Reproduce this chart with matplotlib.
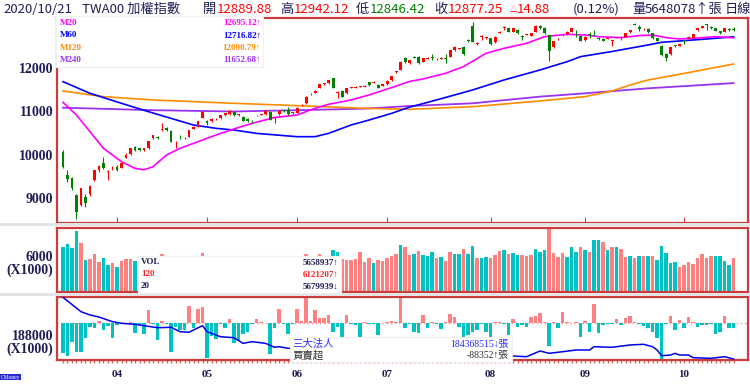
import numpy as np
import matplotlib
matplotlib.use("Agg")
import matplotlib.pyplot as plt
from matplotlib.patches import Rectangle

W, H = 750, 391

# daily candles, trading days 2020-03-16 .. 2020-10-21
opens = [
    10076, 9539, 9462, 9079, 8849, 9040, 9094, 9423, 9654, 9823,
    9620, 9690, 9731, 9708, 9939, 10015, 10184, 10153, 10110, 10153,
    10383, 10420, 10580, 10610, 10559, 10290, 10400, 10383, 10421, 10597,
    10651, 10858, 10781, 10781, 10820, 10842, 10919, 10942, 10981, 10920,
    10881, 10827, 10790, 10910, 10930, 10942, 10996, 10860, 10942, 11019,
    11035, 10960, 10973, 11140, 11188, 11395, 11434, 11549, 11635, 11648,
    11763, 11430, 11472, 11418, 11550, 11550, 11570, 11572, 11672, 11665,
    11620, 11595, 11633, 11720, 11901, 11954, 12222, 12107, 12245, 12261,
    12145, 12210, 12245, 12210, 12215, 12222, 12261, 12414, 12440, 12491,
    12644, 12966, 12560, 12715, 12690, 12682, 12590, 12815, 12930, 12912,
    12836, 12874, 12725, 12770, 12736, 12836, 12974, 12928, 12759, 12475,
    12660, 12750, 12774, 12836, 12800, 12744, 12644, 12765, 12800, 12700,
    12667, 12675, 12620, 12690, 12690, 12721, 12821, 13010, 12951, 12890,
    12897, 12797, 12682, 12514, 12322, 12314, 12510, 12506, 12625, 12667,
    12698, 12866, 12920, 12995, 12940, 12912, 12851, 12836, 12895, 12889.88,
]
highs = [
    10110, 9654, 9490, 9110, 9250, 9110, 9300, 9660, 9760, 9961,
    9660, 9750, 9760, 9830, 10050, 10160, 10200, 10170, 10170, 10330,
    10470, 10440, 10727, 10640, 10570, 10320, 10450, 10410, 10580, 10660,
    10790, 11000, 10800, 10840, 10850, 10930, 10970, 11030, 10995, 10950,
    10900, 10840, 10800, 10930, 10950, 11030, 11005, 10880, 11020, 11040,
    11112, 10990, 11100, 11170, 11350, 11420, 11490, 11630, 11660, 11730,
    11780, 11460, 11490, 11540, 11570, 11580, 11590, 11600, 11680, 11690,
    11640, 11640, 11715, 11820, 11940, 12150, 12261, 12190, 12270, 12280,
    12230, 12260, 12314, 12240, 12250, 12314, 12420, 12500, 12470, 12500,
    12660, 13051, 12606, 12759, 12720, 12700, 12730, 12840, 12974, 12930,
    12920, 12890, 12759, 12790, 12810, 12980, 12990, 12940, 12770, 12630,
    12680, 12770, 12840, 12930, 12874, 12760, 12730, 12836, 12874, 12720,
    12680, 12700, 12640, 12710, 12744, 12800, 12880, 13031, 12989, 12910,
    12910, 12810, 12700, 12530, 12350, 12480, 12540, 12550, 12644, 12730,
    12780, 12920, 12970, 13012, 12960, 12920, 12860, 12920, 12910, 12942.12,
]
lows = [
    9700, 9385, 9200, 8523, 8830, 8810, 9050, 9400, 9600, 9680,
    9423, 9650, 9630, 9690, 9930, 9990, 10100, 10100, 10100, 10140,
    10370, 10370, 10560, 10550, 10290, 10153, 10360, 10370, 10410, 10590,
    10640, 10850, 10700, 10760, 10800, 10830, 10900, 10930, 10900, 10900,
    10780, 10770, 10727, 10890, 10910, 10930, 10800, 10743, 10930, 10990,
    10930, 10940, 10960, 11120, 11180, 11380, 11420, 11540, 11620, 11640,
    11540, 11303, 11330, 11410, 11540, 11540, 11555, 11560, 11590, 11650,
    11530, 11580, 11620, 11710, 11890, 11950, 12120, 12100, 12220, 12100,
    12140, 12200, 12184, 12180, 12200, 12107, 12250, 12400, 12430, 12300,
    12600, 12590, 12529, 12644, 12670, 12530, 12580, 12800, 12874, 12820,
    12830, 12790, 12644, 12750, 12730, 12830, 12900, 12790, 12161, 12470,
    12640, 12740, 12760, 12830, 12721, 12610, 12630, 12698, 12744, 12650,
    12620, 12660, 12514, 12680, 12644, 12710, 12810, 12990, 12859, 12880,
    12810, 12670, 12620, 12280, 12169, 12300, 12480, 12500, 12544, 12660,
    12690, 12860, 12910, 12880, 12900, 12840, 12780, 12830, 12850, 12846.42,
]
closes = [
    9731, 9447, 9232, 8696, 9234, 8890, 9286, 9645, 9736, 9699,
    9629, 9708, 9664, 9819, 10000, 10153, 10115, 10110, 10153, 10321,
    10459, 10398, 10597, 10574, 10306, 10310, 10383, 10398, 10574, 10651,
    10781, 10992, 10727, 10827, 10830, 10919, 10957, 11018, 10919, 10934,
    10790, 10781, 10775, 10919, 10934, 11019, 10812, 10866, 11011, 11010,
    10942, 10973, 11089, 11150, 11342, 11403, 11480, 11625, 11641, 11724,
    11549, 11441, 11342, 11534, 11556, 11572, 11575, 11595, 11600, 11672,
    11549, 11633, 11710, 11816, 11931, 12145, 12140, 12184, 12238, 12107,
    12222, 12215, 12238, 12199, 12222, 12199, 12414, 12491, 12453, 12314,
    12621, 12606, 12567, 12721, 12698, 12544, 12721, 12821, 12935, 12836,
    12912, 12797, 12721, 12774, 12797, 12974, 12912, 12797, 12391, 12621,
    12667, 12759, 12836, 12928, 12797, 12621, 12721, 12759, 12797, 12667,
    12629, 12682, 12629, 12698, 12682, 12797, 12874, 13000, 12897, 12890,
    12821, 12682, 12629, 12299, 12238, 12475, 12506, 12544, 12620, 12721,
    12774, 12912, 12960, 12989, 12930, 12851, 12797, 12912, 12862.37, 12877.25,
]

# moving averages, sampled from the chart (day index, value)
ma20_idx = [0, 3, 6, 9, 13, 16, 18, 20, 23, 26, 30, 34, 38, 42, 47, 52, 56, 59, 64, 68,
            73, 77, 80, 85, 89, 94, 98, 103, 107, 112, 116, 119, 124, 128, 131, 134, 137, 140, 145, 149]
ma20_val = [11210, 10919, 10535, 10153, 9845, 9693, 9660, 9731, 9999, 10153, 10305, 10459, 10600,
            10727, 10862, 10919, 11073, 11165, 11265, 11380, 11549, 11690, 11748, 11878, 12032,
            12338, 12453, 12568, 12721, 12774, 12759, 12721, 12698, 12744, 12759, 12698, 12667,
            12682, 12721, 12695.12]
ma60_idx = [0, 6, 13, 19, 24, 29, 34, 38, 43, 52, 56, 59, 64, 68, 73, 77, 83, 91, 98, 106,
            112, 115, 122, 130, 133, 137, 143, 149]
ma60_val = [11686, 11418, 11188, 10996, 10842, 10689, 10613, 10574, 10497, 10421, 10421, 10497,
            10689, 10804, 10957, 11100, 11265, 11495, 11725, 11955, 12145, 12261, 12380, 12530,
            12591, 12621, 12667, 12716.82]
ma120_idx = [0, 9, 20, 38, 52, 67, 77, 91, 106, 116, 122, 126, 130, 137, 144, 149]
ma120_val = [11471, 11342, 11265, 11188, 11135, 11073, 11050, 11111, 11242, 11342, 11472, 11610,
             11725, 11855, 11993, 12090.79]
ma240_idx = [0, 20, 38, 52, 67, 77, 91, 106, 116, 130, 149]
ma240_val = [11087, 11030, 11000, 11030, 11065, 11126, 11188, 11342, 11418, 11533, 11652.68]

# volume in thousand lots, and up(1)/down(0) colour flag
volume = [
    7581, 8151, 7410, 10260, 8265, 5415, 5586, 6327, 5016, 5700,
    4560, 4845, 4161, 5187, 5586, 5586, 5187, 4900, 4700, 5300,
    5500, 5100, 6441, 5400, 5600, 5000, 4800, 4600, 5200, 5400,
    5800, 6555, 5700, 4900, 4700, 5200, 5000, 5400, 4800, 4500,
    4700, 4400, 4300, 4600, 4200, 4900, 5300, 4400, 4800, 4600,
    5200, 4700, 5500, 5700, 6441, 5900, 5600, 6441, 5800, 5900,
    7125, 6726, 5586, 5415, 5415, 5586, 6726, 5016, 5700, 4845,
    5415, 5187, 5700, 5985, 6441, 7866, 7581, 6270, 6441, 6954,
    6156, 6042, 6669, 5700, 5814, 5244, 6669, 6327, 6441, 7182,
    6441, 7695, 5757, 5757, 5928, 5700, 6156, 6954, 7125, 6327,
    6498, 6270, 6270, 6099, 6270, 7239, 6783, 7125, 10716, 6498,
    5871, 6498, 5814, 7524, 6726, 7524, 7068, 6669, 8721, 8721,
    8379, 7011, 7638, 7524, 7296, 5928, 5985, 5700, 6099, 6099,
    5985, 5985, 5472, 7695, 6498, 4959, 5073, 4218, 4617, 5073,
    4731, 5700, 6441, 5700, 5985, 5985, 6099, 5244, 4617, 5659,
]
vol_up = [int(ch) for ch in (
    "00001011100101110" "01110100111111101111101000111011001111111100"
    "011111110" "11111011010001011001001001110100111000111100"
    "0101001010110101010000011111111000" "0101")]

# institutional net buy/sell (thousand lots) and its running total line
net_buy = [
    -612, -660, -388, -578, -592, -306, -68, -88, 48, -136,
    -48, -292, -34, 14, -7, 20, -204, -20, -224, 272,
    -20, -340, 48, -20, -578, -68, -136, -136, 360, -102,
    292, 326, -700, -252, -320, -7, -102, 88, -408, -340,
    -224, -170, -20, 88, 20, 14, -626, -102, 292, -20,
    -224, -20, 292, 48, 524, 48, 272, 102, 102, 170,
    -184, -68, -272, 170, -14, -34, -272, 20, -20, -7,
    -238, 7, 20, 48, 34, 544, -102, -20, -170, -204,
    170, -102, 34, -20, -116, 20, 190, 122, -68, -272,
    -238, -170, -136, -20, -170, -272, 20, 34, -20, -238,
    88, -68, -34, -68, 122, 150, 204, 20, -456, 34,
    -102, 238, 20, 14, 20, -272, 54, -170, 394, -204,
    -34, -7, -5, 88, -34, 102, 156, 20, -20, -48,
    -88, -184, -306, -748, -20, 150, -136, 68, -102, 122,
    34, -68, -34, -34, -20, -224, -170, 150, -88, -88.352,
]
inst_idx = [0, 4, 6, 8, 11, 13, 16, 18, 21, 24, 26, 28, 29, 31, 32, 35, 38, 40, 42, 45, 47, 48, 50,
            100, 103, 106, 108, 111, 114, 117, 118, 122, 126, 129, 131, 132, 133, 135, 136, 137,
            139, 140, 144, 147, 149]
inst_val = [193700, 191525, 191030, 190720, 190010, 189770, 189620, 189410, 189100, 189165,
            188500, 188410, 188760, 189410, 188500, 187740, 187590, 186740, 186990, 186740,
            186140, 186230, 185990, 184820, 184720, 185580, 185230, 185470, 185730, 185730,
            186230, 186140, 186490, 186590, 186230, 185730, 184870, 184970, 185230, 184970,
            184970, 184570, 184470, 184720, 184368.515]

month_idx = [12, 32, 52, 72, 95, 116, 138]
month_lbl = ["04", "05", "06", "07", "08", "09", "10"]

RED = "#ff0000"
GRN = "#008000"
NAVY = "#1e1e55"
BORDER = "#cc3c3c"
PINK = "#ff8080"
TEAL = "#00c2c2"
SERIF = ["Liberation Serif", "DejaVu Serif"]
CJK = ["Noto Sans CJK TC", "DejaVu Sans"]


def rect(x0, y0, x1, y1):
    return [x0 / W, 1 - y1 / H, (x1 - x0) / W, (y1 - y0) / H]


def frame(ax):
    for s in ax.spines.values():
        s.set_color(BORDER)
        s.set_linewidth(1.6)
    ax.set_xlim(-1.22, 152.2)


fig = plt.figure(figsize=(7.5, 3.91), dpi=100)
fig.patch.set_facecolor("white")

ax = fig.add_axes(rect(57.5, 17.5, 748, 222.5))
ax_v = fig.add_axes(rect(57.5, 227.5, 748, 291.7))
ax_b = fig.add_axes(rect(57.5, 296.7, 748, 360))

idx = np.arange(len(closes))
o, h, l, c = map(np.array, (opens, highs, lows, closes))

# ---- price panel
col = np.where(c >= o, RED, GRN)
ax.vlines(idx, l, h, colors=col, lw=0.8, zorder=3)
ax.bar(idx, np.maximum(np.abs(c - o), 18), bottom=np.minimum(o, c), width=0.66,
       color=col, lw=0, zorder=3)
ax.plot(ma240_idx, ma240_val, color="#9933ee", lw=1.3, zorder=2)
ax.plot(ma120_idx, ma120_val, color="#ff8c00", lw=1.2, zorder=2)
ax.plot(ma60_idx, ma60_val, color="#0000ff", lw=1.2, zorder=2)
ax.plot(ma20_idx, ma20_val, color="#ff00ff", lw=1.2, zorder=2)
ax.set_ylim(8448, 13161)
ax.set_yticks([9000, 10000, 11000, 12000])
ax.set_xticks(month_idx)
ax.tick_params(axis="y", length=0, pad=3, labelsize=10, labelcolor=NAVY)
ax.tick_params(axis="x", direction="in", length=4, color=BORDER, labelbottom=False)
frame(ax)

# ---- volume panel
ax_v.bar(idx, volume, width=0.78, lw=0,
         color=[PINK if u else TEAL for u in vol_up])
ax_v.set_ylim(-30, 10940)
ax_v.set_yticks([6000])
ax_v.set_xticks([])
ax_v.tick_params(axis="y", length=0, pad=3, labelsize=10, labelcolor=NAVY)
ax_v.annotate("(X1000)", xy=(0, 6000), xycoords=("axes fraction", "data"),
              xytext=(-3, -10), textcoords="offset points", ha="right", va="center",
              fontsize=10, fontweight="bold", color=NAVY, family=SERIF)
frame(ax_v)

# ---- institutional panel
nb = np.array(net_buy)
ax_b.axhline(0, color="#ff9090", lw=1, ls=(0, (1, 2)), zorder=1)
ax_b.bar(idx, nb, width=0.78, lw=0, color=np.where(nb >= 0, PINK, TEAL), zorder=2)
ax_b.set_ylim(-750, 545)
ax_b.set_yticks([])
ax_b.set_xticks(month_idx)
ax_b.set_xticklabels(month_lbl)
ax_b.set_xticks(idx, minor=True)
ax_b.tick_params(axis="x", which="both", direction="out", length=2, width=1,
                 color="#e06060", pad=5, labelsize=8, labelcolor=NAVY)
frame(ax_b)
ax_b2 = ax_b.twinx()
ax_b2.plot(inst_idx, inst_val, color="#0000ee", lw=1.1)
ax_b2.set_ylim(184218, 193794)
ax_b2.yaxis.tick_left()
ax_b2.set_yticks([188000])
ax_b2.tick_params(axis="y", length=0, pad=3, labelsize=10, labelcolor=NAVY)
ax_b2.annotate("(X1000)", xy=(0, 188000), xycoords=("axes fraction", "data"),
               xytext=(-3, -10), textcoords="offset points", ha="right", va="center",
               fontsize=10, fontweight="bold", color=NAVY, family=SERIF)
for s in ax_b2.spines.values():
    s.set_visible(False)

for a in (ax, ax_v, ax_b2):
    for t in a.get_yticklabels():
        t.set_fontweight("bold")
        t.set_family(SERIF)
for t in ax_b.get_xticklabels():
    t.set_fontweight("bold")
    t.set_family(SERIF)

# ---- overlay: header, legend boxes
ov = fig.add_axes([0, 0, 1, 1], zorder=10)
ov.set_xlim(0, W)
ov.set_ylim(H, 0)
ov.axis("off")

for y0 in (222.5, 292.5):
    ov.add_patch(Rectangle((0, y0), W, 3.5, color="#e4e4e4", lw=0))

hdr = [(3, "2020/10/21", NAVY), (82, "TWA00 加權指數", NAVY),
       (203, "開", NAVY), (217, "12889.88", RED),
       (280, "高", NAVY), (294, "12942.12", RED),
       (356, "低", NAVY), (370, "12846.42", GRN),
       (434, "收", NAVY), (448, "12877.25", RED),
       (517, "14.88", RED), (573, "(0.12%)", NAVY),
       (632, "量", NAVY), (645, "5648078↑張", NAVY), (725, "日線", NAVY)]
for x, s, cc in hdr:
    ov.text(x, 9.5, s, fontsize=9.5, color=cc, family=CJK, va="center", ha="left")
ov.text(510, 10, "△", fontsize=5.5, color=RED, family=CJK, va="center", ha="left")

ov.add_patch(Rectangle((56, 15.5), 207, 51, facecolor="white", edgecolor="#f0f0f0", lw=0.8))
leg_main = [("M20", "12695.12↑", "#ff00ff"), ("M60", "12716.82↑", "#0000ff"),
            ("M120", "12090.79↑", "#ff8c00"), ("M240", "11652.68↑", "#9933ee")]
for k, (name, val, cc) in enumerate(leg_main):
    y = 23 + 12.4 * k
    ov.text(60, y, name, fontsize=6.5, fontweight="bold", color=cc, family=SERIF, va="center")
    ov.text(261, y, val, fontsize=6.5, fontweight="bold", color=cc, family=SERIF,
            va="center", ha="right")

ov.add_patch(Rectangle((138, 256), 203, 37, facecolor="white", edgecolor="#f0f0f0", lw=0.8))
leg_vol = [("VOL", "5658937↑", NAVY), ("120", "6121207↑", "#ff2020"), ("20", "5679939↓", NAVY)]
for k, (name, val, cc) in enumerate(leg_vol):
    y = 262.5 + 12 * k
    ov.text(141, y, name, fontsize=6.5, fontweight="bold", color=cc, family=SERIF, va="center")
    ov.text(339, y, val, fontsize=6.5, fontweight="bold", color=cc, family=SERIF,
            va="center", ha="right")

ov.add_patch(Rectangle((290, 337), 222, 25, facecolor="white", edgecolor="#f0f0f0", lw=0.8))
leg_b = [("三大法人", "184368515↓張", "#2828ff"), ("買賣超", "-88352↑張", "#303030")]
for k, (name, val, cc) in enumerate(leg_b):
    y = 344 + 11.8 * k
    ov.text(292, y, name, fontsize=7.5, color=cc, family=["Noto Sans CJK TC"], va="center")
    ov.text(509, y, val, fontsize=7, color=cc, family=["Liberation Serif", "Noto Sans CJK TC"],
            va="center", ha="right")

ov.text(1, 377, "CMoney", fontsize=4, color="white", family=SERIF, va="center", ha="left",
        bbox=dict(boxstyle="square,pad=0.15", facecolor="#2b2bd0", edgecolor="none"))

fig.savefig("out.png", dpi=100)
